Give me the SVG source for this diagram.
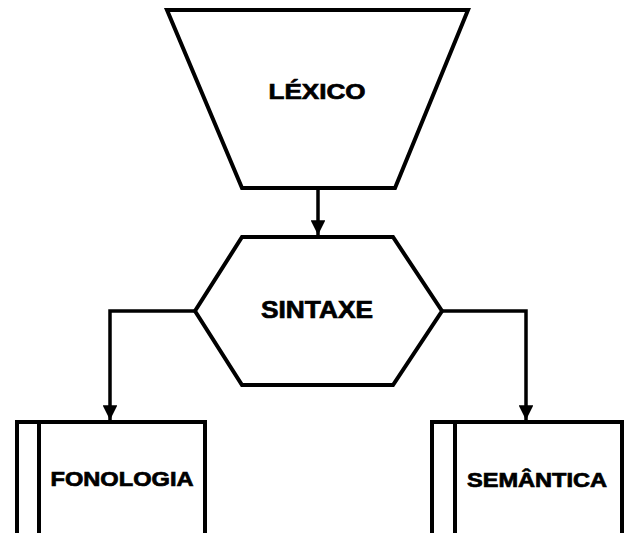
<svg xmlns="http://www.w3.org/2000/svg" width="624" height="533" viewBox="0 0 624 533">
<style>
.shape{fill:#fff;stroke:#000;stroke-width:4;stroke-linejoin:miter}
.conn{fill:none;stroke:#000;stroke-width:3.5}
.lbl{font-family:"Liberation Sans",Arial,sans-serif;font-weight:bold;fill:#000;stroke:#000;stroke-width:0.7;text-anchor:middle}
</style>
<defs>
<marker id="arr" viewBox="0 0 10 10" refX="10" refY="5" markerWidth="4.2" markerHeight="4.2" orient="auto" markerUnits="strokeWidth">
<path d="M0,0 L10,5 L0,10 z" fill="#000"/>
</marker>
</defs>
<rect width="624" height="533" fill="#fff"/>
<g id="connectors">
<line class="conn" x1="318" y1="188" x2="318" y2="235" marker-end="url(#arr)"/>
<polyline class="conn" points="195,311 110,311 110,420" marker-end="url(#arr)"/>
<polyline class="conn" points="442,311 526,311 526,420" marker-end="url(#arr)"/>
</g>
<g id="lexico">
<polygon class="shape" points="167,10 468,10 395,188 242,188"/>
<text class="lbl" x="317" y="99" font-size="22" textLength="97" lengthAdjust="spacingAndGlyphs">LÉXICO</text>
</g>
<g id="sintaxe">
<polygon class="shape" points="242,237 393,237 442,311 393,385 242,385 195,311"/>
<text class="lbl" x="317" y="318" font-size="23" textLength="112" lengthAdjust="spacingAndGlyphs">SINTAXE</text>
</g>
<g id="fonologia">
<polyline class="shape" points="17,540 17,422 205,422 205,540"/>
<line class="shape" x1="39" y1="422" x2="39" y2="540"/>
<text class="lbl" x="122" y="486" font-size="20" textLength="143" lengthAdjust="spacingAndGlyphs">FONOLOGIA</text>
</g>
<g id="semantica">
<polyline class="shape" points="432,540 432,422 622,422 622,540"/>
<line class="shape" x1="455" y1="422" x2="455" y2="540"/>
<text class="lbl" x="537" y="487" font-size="20" textLength="140" lengthAdjust="spacingAndGlyphs">SEMÂNTICA</text>
</g>
</svg>
